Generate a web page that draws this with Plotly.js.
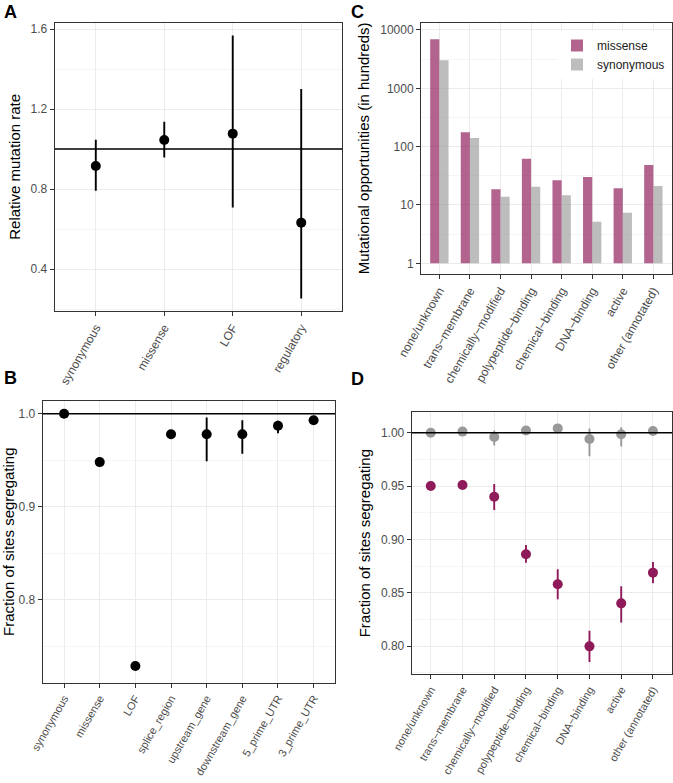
<!DOCTYPE html>
<html>
<head>
<meta charset="utf-8">
<script src="https://cdn.plot.ly/plotly-3.0.1.min.js"></script>
<style>html,body{margin:0;padding:0;background:#fff;}#chart{width:673px;height:783px;}</style>
</head>
<body>
<div id="chart"></div>
<script>
// ---------- Panel A: relative mutation rate ----------
const catsA = ['synonymous', 'missense', 'LOF', 'regulatory'];
const rateA = [0.915, 1.045, 1.077, 0.632];
const rateLowA = [0.792, 0.958, 0.708, 0.253];
const rateHighA = [1.047, 1.137, 1.568, 1.300];

// ---------- Panel B: fraction of sites segregating by consequence ----------
const catsB = ['synonymous', 'missense', 'LOF', 'splice_region', 'upstream_gene', 'downstream_gene', '5_prime_UTR', '3_prime_UTR'];
const fracB = [1.000, 0.948, 0.7287, 0.978, 0.978, 0.978, 0.987, 0.993];
const fracLowB = [0.999, 0.946, 0.726, 0.976, 0.949, 0.957, 0.979, 0.991];
const fracHighB = [1.001, 0.950, 0.731, 0.980, 0.996, 0.993, 0.9925, 0.995];

// ---------- Panel C: mutational opportunities (hundreds) ----------
const catsC = ['none/unknown', 'trans\u2212membrane', 'chemically\u2212modified', 'polypeptide\u2212binding', 'chemical\u2212binding', 'DNA\u2212binding', 'active', 'other (annotated)'];
const oppMissense = [6920, 176, 18.6, 62, 26.5, 30.2, 19.3, 48.4];
const oppSynonymous = [3020, 141, 13.9, 20.6, 14.7, 5.17, 7.38, 21.2];
const logTickVals = [1, 10, 100, 1000, 10000];

// ---------- Panel D: fraction of sites segregating by annotation ----------
const fracSynD = [1.000, 1.001, 0.996, 1.002, 1.004, 0.994, 0.9985, 1.0016];
const fracSynLowD = [0.999, 1.000, 0.988, 1.001, 1.003, 0.978, 0.987, 1.0006];
const fracSynHighD = [1.001, 1.002, 1.002, 1.003, 1.005, 1.004, 1.005, 1.0026];
const fracMisD = [0.950, 0.951, 0.940, 0.886, 0.858, 0.7997, 0.840, 0.8688];
const fracMisLowD = [0.949, 0.950, 0.9275, 0.878, 0.8438, 0.785, 0.822, 0.8588];
const fracMisHighD = [0.951, 0.952, 0.952, 0.8947, 0.872, 0.8144, 0.856, 0.8788];

// ---------- style ----------
const W = 673, H = 783;
const FONT = 'Liberation Sans, Arial, sans-serif';
const TICK = 12;
const MIS_COL = '#8E1A5A';
const SYN_COL = '#999999';
const MIS_BAR = 'rgba(142,26,90,0.68)';
const SYN_BAR = 'rgba(153,153,153,0.65)';
const GRID = '#EBEBEB';
const MINOR = '#F5F5F5';
const BORDER = '#333333';

function dx(l, r) { return [l / W, r / W]; }
function dy(t, b) { return [1 - b / H, 1 - t / H]; }
const up = (hi, v) => hi.map((h, i) => h - v[i]);
const dn = (lo, v) => lo.map((l, i) => v[i] - l);

function xaxisBase(dom, anchor, fs) {
  return {
    domain: dom, anchor: anchor, type: 'category',
    showline: true, mirror: true, linecolor: BORDER, linewidth: 1,
    ticks: 'outside', ticklen: 4, tickcolor: BORDER, tickwidth: 1,
    tickangle: -60, tickfont: {family: FONT, size: fs, color: '#4D4D4D'},
    showgrid: true, gridcolor: GRID, gridwidth: 1, zeroline: false, fixedrange: true
  };
}
function yaxisBase(dom, anchor, range, title) {
  return {
    domain: dom, anchor: anchor, range: range,
    showline: true, mirror: true, linecolor: BORDER, linewidth: 1,
    ticks: 'outside', ticklen: 4, tickcolor: BORDER, tickwidth: 1,
    tickfont: {family: FONT, size: TICK, color: '#4D4D4D'},
    showgrid: true, gridcolor: GRID, gridwidth: 1, zeroline: false,
    title: {text: title, font: {family: FONT, size: 15, color: '#000'}, standoff: 6},
    fixedrange: true
  };
}
function pointTrace(x, y, lo, hi, color, xa, ya) {
  return {
    type: 'scatter', mode: 'markers', x: x, y: y, xaxis: xa, yaxis: ya,
    marker: {color: color, size: 10},
    error_y: {type: 'data', symmetric: false, array: up(hi, y), arrayminus: dn(lo, y),
              color: color, thickness: 1.9, width: 0},
    showlegend: false, hoverinfo: 'x+y'
  };
}

const traces = [
  pointTrace(catsA, rateA, rateLowA, rateHighA, '#000', 'x', 'y'),
  pointTrace(catsB, fracB, fracLowB, fracHighB, '#000', 'x2', 'y2'),
  {type: 'bar', name: 'missense', x: catsC, y: oppMissense.map(Math.log10),
   customdata: oppMissense, hovertemplate: '%{customdata}<extra>missense</extra>',
   marker: {color: MIS_BAR, line: {width: 0}}, xaxis: 'x3', yaxis: 'y3'},
  {type: 'bar', name: 'synonymous', x: catsC, y: oppSynonymous.map(Math.log10),
   customdata: oppSynonymous, hovertemplate: '%{customdata}<extra>synonymous</extra>',
   marker: {color: SYN_BAR, line: {width: 0}}, xaxis: 'x3', yaxis: 'y3'},
  pointTrace(catsC, fracSynD, fracSynLowD, fracSynHighD, SYN_COL, 'x4', 'y4'),
  pointTrace(catsC, fracMisD, fracMisLowD, fracMisHighD, MIS_COL, 'x4', 'y4')
];

const xa1 = xaxisBase(dx(54.7, 342.3), 'y', 12); xa1.range = [-0.6, catsA.length - 0.4];
const xa2 = xaxisBase(dx(42.7, 335), 'y2', 11); xa2.range = [-0.6, catsB.length - 0.4];
const xa3 = xaxisBase(dx(421, 671.7), 'y3', 12); xa3.range = [-0.6, catsC.length - 0.4];
const xa4 = xaxisBase(dx(411.7, 672), 'y4', 11); xa4.range = [-0.6, catsC.length - 0.4];

const ya1 = yaxisBase(dy(22.7, 311), 'x', [0.19, 1.632], 'Relative mutation rate');
ya1.tickmode = 'array'; ya1.tickvals = [0.4, 0.8, 1.2, 1.6]; ya1.ticktext = ['0.4', '0.8', '1.2', '1.6'];
ya1.minor = {tickvals: [0.2, 0.6, 1.0, 1.4], showgrid: true, gridcolor: MINOR, gridwidth: 1, ticks: ''};

const ya2 = yaxisBase(dy(400.7, 682.7), 'x2', [0.7108, 1.014], 'Fraction of sites segregating');
ya2.tickmode = 'array'; ya2.tickvals = [0.8, 0.9, 1.0]; ya2.ticktext = ['0.8', '0.9', '1.0'];
ya2.minor = {tickvals: [0.75, 0.85, 0.95], showgrid: true, gridcolor: MINOR, gridwidth: 1, ticks: ''};

const ya3 = yaxisBase(dy(22.7, 274), 'x3', [-0.183, 4.125], 'Mutational opportunities (in hundreds)');
ya3.tickmode = 'array'; ya3.tickvals = logTickVals.map(Math.log10); ya3.ticktext = logTickVals.map(String);
ya3.minor = {tickvals: [0.5, 1.5, 2.5, 3.5], showgrid: true, gridcolor: MINOR, gridwidth: 1, ticks: ''};

const ya4 = yaxisBase(dy(412.3, 674), 'x4', [0.7738, 1.0191], 'Fraction of sites segregating');
ya4.tickmode = 'array'; ya4.tickvals = [0.80, 0.85, 0.90, 0.95, 1.00];
ya4.ticktext = ['0.80', '0.85', '0.90', '0.95', '1.00'];
ya4.minor = {tickvals: [0.775, 0.825, 0.875, 0.925, 0.975], showgrid: true, gridcolor: MINOR, gridwidth: 1, ticks: ''};

function hline(xr, yr) {
  return {type: 'line', xref: xr + ' domain', yref: yr, x0: 0, x1: 1, y0: 1, y1: 1,
          line: {color: '#000', width: 1.4}, layer: 'above'};
}
function label(t, x, y) {
  return {text: '<b>' + t + '</b>', xref: 'paper', yref: 'paper', x: x / W, y: 1 - y / H,
          xanchor: 'left', yanchor: 'top', showarrow: false,
          font: {family: FONT, size: 18, color: '#000'}};
}

const layout = {
  width: W, height: H, margin: {l: 0, r: 0, t: 0, b: 0},
  paper_bgcolor: '#fff', plot_bgcolor: '#fff',
  font: {family: FONT},
  bargap: 0.4, bargroupgap: 0, barmode: 'group',
  xaxis: xa1, yaxis: ya1, xaxis2: xa2, yaxis2: ya2,
  xaxis3: xa3, yaxis3: ya3, xaxis4: xa4, yaxis4: ya4,
  showlegend: true,
  legend: {x: 557 / W, y: 1 - 31 / H, xanchor: 'left', yanchor: 'top',
           bgcolor: '#fff', borderwidth: 0, font: {family: FONT, size: 12, color: '#1a1a1a'},
           tracegroupgap: 0},
  shapes: [hline('x', 'y'), hline('x2', 'y2'), hline('x4', 'y4')],
  annotations: [label('A', 2, 0), label('B', 2, 366), label('C', 349, 0), label('D', 349, 367)]
};

Plotly.newPlot('chart', traces, layout, {displayModeBar: false, staticPlot: true});
</script>
</body>
</html>
